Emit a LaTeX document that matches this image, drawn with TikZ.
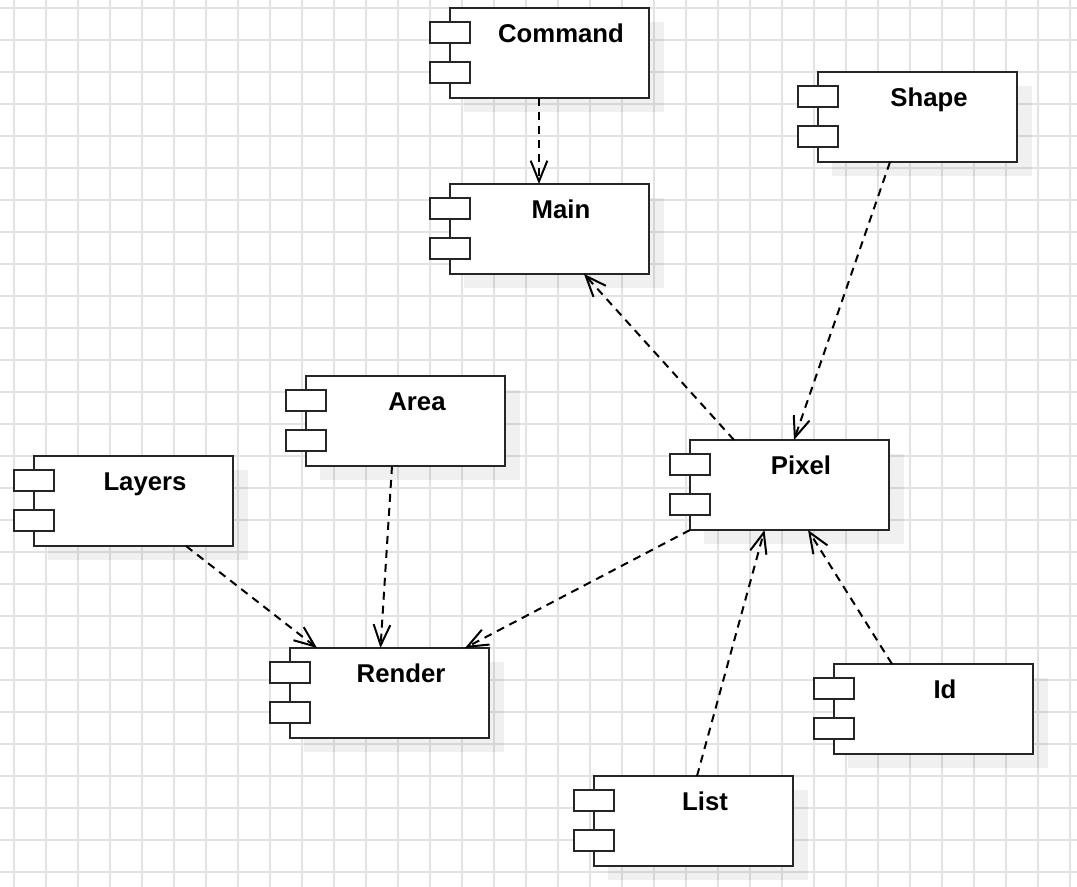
\documentclass[tikz,border=0pt]{standalone}
\usepackage{fontspec}
\setmainfont{Liberation Sans}
\usetikzlibrary{arrows.meta,calc}
\definecolor{gridc}{HTML}{E3E3E3}
\tikzset{
  gridline/.style={draw=gridc, line width=1.5pt},
  compbox/.style={draw=black!85, fill=white, line width=1.5pt, minimum width=149.6pt,
    minimum height=67.5pt, inner sep=0pt, outer sep=0pt, anchor=north west},
  iconbox/.style={draw=black!85, fill=white, line width=1.5pt},
  compshadow/.style={fill=black, fill opacity=0.06},
  complabel/.style={font=\bfseries\fontsize{19.3}{23}\selectfont, anchor=base, inner sep=0pt},
  dep/.style={draw=black, line width=1.5pt, dash pattern=on 6pt off 4.5pt,
    -{Straight Barb[length=15.5pt, width=12.5pt, line width=1.5pt]}}
}
\newcommand{\umlcomp}[4]{%
  \fill[compshadow] (#2+14,#3+14) rectangle ++(199.5,90);
  \node[compbox] (#1) at (#2,#3) {};
  \draw[iconbox] ($(#1.north west)+(-20,14)$) rectangle ++(40,21);
  \draw[iconbox] ($(#1.north west)+(-20,54)$) rectangle ++(40,21);
  \node[complabel] at ($(#1.north west)+(111,34.5)$) {#4};
}
\begin{document}
\begin{tikzpicture}[x=0.75pt, y=-0.75pt]
  \useasboundingbox (0,0) rectangle (1077,887);
  \fill[white] (0,0) rectangle (1077,887);
  \foreach \gx in {14,46,...,1077} \draw[gridline] (\gx,0) -- (\gx,887);
  \foreach \gy in {8,40,...,887} \draw[gridline] (0,\gy) -- (1077,\gy);

  \umlcomp{command}{450}{8}{Command}
  \umlcomp{main}{450}{184}{Main}
  \umlcomp{shape}{818}{72}{Shape}
  \umlcomp{area}{306}{376}{Area}
  \umlcomp{layers}{34}{456}{Layers}
  \umlcomp{pixel}{690}{440}{Pixel}
  \umlcomp{render}{290}{648}{Render}
  \umlcomp{id}{834}{664}{Id}
  \umlcomp{list}{594}{776}{List}

  \draw[dep] ($(command.south west)+(89,0)$) -- ($(main.north west)+(89,0)$);
  \draw[dep] ($(shape.south west)+(72,0)$) -- ($(pixel.north west)+(104,0)$);
  \draw[dep] ($(pixel.north west)+(44,0)$) -- ($(main.south west)+(134,0)$);
  \draw[dep] ($(area.south west)+(86,0)$) -- ($(render.north west)+(90.5,0)$);
  \draw[dep] ($(layers.south west)+(152,0)$) -- ($(render.north west)+(27,0)$);
  \draw[dep] (pixel.south west) -- ($(render.north west)+(175,0)$);
  \draw[dep] ($(list.north west)+(103,0)$) -- ($(pixel.south west)+(74.5,0)$);
  \draw[dep] ($(id.north west)+(58,0)$) -- ($(pixel.south west)+(118,0)$);
\end{tikzpicture}
\end{document}
